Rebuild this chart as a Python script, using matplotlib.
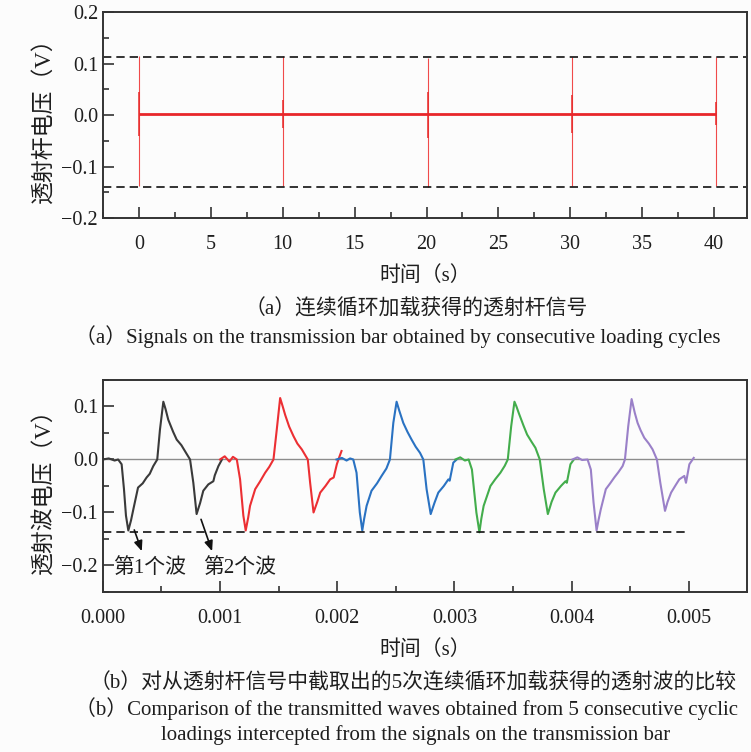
import matplotlib
matplotlib.use("Agg")
import matplotlib.pyplot as plt
import numpy as np

plt.rcParams['font.family'] = ['Liberation Serif', 'Noto Sans CJK SC']
plt.rcParams['axes.unicode_minus'] = True

# ---- panel (a): transmission bar signal over 5 loading cycles ----
spike_t = [0.0, 10.05, 20.1, 30.1, 40.1]        # s
spike_hi = [0.114, 0.114, 0.110, 0.113, 0.113]  # V
spike_lo = [-0.138, -0.138, -0.140, -0.138, -0.138]
spike_mid_hi = [0.045, 0.030, 0.045, 0.038, 0.025]
spike_mid_lo = [-0.040, -0.025, -0.045, -0.035, -0.020]
baseline_a = 0.003
upper_a = 0.113
lower_a = -0.139

# ---- panel (b): the 5 transmitted waves, keypoints (time in ms, volts) ----
t_black = [0.0, 0.05, 0.10, 0.13, 0.16, 0.18, 0.197, 0.217, 0.24, 0.26, 0.30, 0.34, 0.373, 0.40, 0.43, 0.464,
           0.487, 0.516, 0.535, 0.558, 0.60, 0.63, 0.67, 0.70, 0.744, 0.772, 0.80, 0.83, 0.857, 0.90, 0.943,
           0.955, 0.986, 1.014]
v_black = [0.0, 0.002, -0.002, 0.0, -0.009, -0.056, -0.106, -0.134, -0.115, -0.094, -0.053, -0.045, -0.034,
           -0.027, -0.0125, 0.0, 0.056, 0.109, 0.095, 0.075, 0.052, 0.0375, 0.027, 0.016, 0.0, -0.044, -0.103,
           -0.082, -0.059, -0.047, -0.041, -0.030, -0.0125, -0.001]

t_red = [1.0, 1.04, 1.08, 1.11, 1.143, 1.171, 1.199, 1.219, 1.24, 1.256, 1.30, 1.34, 1.385, 1.42, 1.456, 1.484,
         1.513, 1.535, 1.556, 1.59, 1.627, 1.66, 1.698, 1.749, 1.769, 1.798, 1.83, 1.855, 1.90, 1.94, 1.97,
         1.997, 2.017, 2.037]
v_red = [0.0, 0.006, -0.004, 0.005, 0.0, -0.0375, -0.106, -0.134, -0.110, -0.0875, -0.056, -0.042, -0.025,
         -0.014, 0.0, 0.056, 0.116, 0.100, 0.084, 0.062, 0.044, 0.030, 0.019, 0.0, -0.044, -0.100, -0.080,
         -0.0625, -0.050, -0.0375, -0.034, -0.009, 0.004, 0.016]

t_blue = [1.994, 2.04, 2.08, 2.11, 2.137, 2.165, 2.193, 2.214, 2.23, 2.251, 2.293, 2.34, 2.379, 2.42, 2.45,
          2.479, 2.507, 2.53, 2.564, 2.60, 2.635, 2.67, 2.707, 2.735, 2.763, 2.798, 2.83, 2.863, 2.91, 2.949,
          2.96, 2.991, 3.02]
v_blue = [0.0, 0.003, -0.002, 0.002, 0.0, -0.025, -0.100, -0.134, -0.112, -0.0875, -0.059, -0.045, -0.031,
          -0.017, 0.0, 0.069, 0.109, 0.092, 0.069, 0.052, 0.0375, 0.024, 0.0125, 0.0, -0.056, -0.103, -0.082,
          -0.0625, -0.050, -0.0375, -0.040, -0.006, 0.0]

t_green = [3.009, 3.05, 3.09, 3.122, 3.15, 3.188, 3.214, 3.23, 3.25, 3.308, 3.35, 3.393, 3.43, 3.456, 3.485,
           3.513, 3.53, 3.55, 3.59, 3.621, 3.66, 3.692, 3.729, 3.763, 3.798, 3.83, 3.863, 3.91, 3.949, 3.96,
           3.991, 4.02]
v_green = [0.0, 0.004, -0.002, 0.0, -0.019, -0.100, -0.1375, -0.112, -0.0875, -0.050, -0.037, -0.025, -0.012,
           0.0, 0.0625, 0.109, 0.100, 0.0875, 0.064, 0.047, 0.033, 0.022, 0.0, -0.056, -0.103, -0.080, -0.0625,
           -0.050, -0.041, -0.044, -0.009, 0.0]

t_purple = [4.008, 4.05, 4.09, 4.137, 4.165, 4.188, 4.214, 4.23, 4.25, 4.293, 4.33, 4.365, 4.40, 4.436, 4.456,
            4.484, 4.513, 4.54, 4.564, 4.59, 4.621, 4.66, 4.692, 4.729, 4.758, 4.798, 4.82, 4.85, 4.89, 4.92,
            4.963, 4.977, 5.006, 5.043]
v_purple = [0.0, 0.004, -0.001, 0.0, -0.019, -0.081, -0.134, -0.115, -0.094, -0.056, -0.045, -0.034, -0.024,
            -0.0125, 0.0, 0.0625, 0.114, 0.088, 0.069, 0.055, 0.041, 0.030, 0.019, 0.0, -0.044, -0.097, -0.080,
            -0.0625, -0.048, -0.0375, -0.031, -0.044, -0.009, 0.003]

waves = [
    (t_black, v_black, '#3a3a3a'),
    (t_red, v_red, '#ec2f33'),
    (t_blue, v_blue, '#2a72c2'),
    (t_green, v_green, '#43ad4c'),
    (t_purple, v_purple, '#9a80c8'),
]
lower_b = -0.137
dash_end_b = 0.005

fig = plt.figure(figsize=(7.51, 7.52), dpi=100)
fig.patch.set_facecolor('#fcfcfc')

tick_fs = 14.5
cjk_fs = 15
eng_fs = 15
txt_col = '#1e1e1e'


def style_axes(ax):
    ax.set_facecolor('#fcfcfc')
    for s in ax.spines.values():
        s.set_linewidth(1.4)
        s.set_color('#333333')
    ax.tick_params(which='both', direction='in', top=False, right=False,
                   labelsize=tick_fs, width=1.2, colors='#333333', labelcolor=txt_col)
    ax.tick_params(which='major', length=8)
    ax.tick_params(which='minor', length=4.5)
    ax.tick_params(axis='x', pad=12)


# ---- top axes ----
ax1 = fig.add_axes([0.137, 0.710, 0.858, 0.274])
ax1.vlines(spike_t, spike_lo, spike_hi, color='#f04a4a', lw=0.8)
ax1.vlines(spike_t, spike_mid_lo, spike_mid_hi, color='#e82a2a', lw=1.1)
ax1.hlines(baseline_a, spike_t[0], spike_t[-1], color='#e8262a', lw=2.0)
ax1.axhline(upper_a, color='#111111', lw=1.2, ls=(0, (5, 3)))
ax1.axhline(lower_a, color='#111111', lw=1.2, ls=(0, (5, 3)))
ax1.set_xlim(-2.5, 42.3)
ax1.set_ylim(-0.2, 0.2)
ax1.set_xticks(np.arange(0, 41, 5))
ax1.set_xticks(np.arange(-2.5, 42.5, 2.5), minor=True)
ax1.set_yticks([-0.2, -0.1, 0.0, 0.1, 0.2])
ax1.set_yticks(np.arange(-0.2, 0.21, 0.05), minor=True)
ax1.set_yticklabels(['−0.2', '−0.1', '0.0', '0.1', '0.2'])
style_axes(ax1)
ax1.set_xlabel('时间（s）', fontsize=cjk_fs, labelpad=9, color=txt_col)
ax1.set_ylabel('透射杆电压（V）', fontsize=16.5, labelpad=4, color=txt_col)

# ---- bottom axes ----
ax2 = fig.add_axes([0.137, 0.2128, 0.858, 0.2819])
ax2.axhline(0.0, color='#8c8c8c', lw=1.0)
for t, v, c in waves:
    ax2.plot(np.array(t) * 1e-3, v, color=c, lw=1.5)
ax2.hlines(lower_b, 0.0, dash_end_b, color='#111111', lw=1.2, ls=(0, (5, 3)))
ax2.set_xlim(0, 0.0055)
ax2.set_ylim(-0.25, 0.15)
ax2.set_xticks(np.arange(0, 0.0051, 0.001))
ax2.set_xticks(np.arange(0, 0.0055, 0.0005), minor=True)
ax2.set_xticklabels(['0.000', '0.001', '0.002', '0.003', '0.004', '0.005'])
ax2.set_yticks([-0.2, -0.1, 0.0, 0.1])
ax2.set_yticks(np.arange(-0.25, 0.151, 0.05), minor=True)
ax2.set_yticklabels(['−0.2', '−0.1', '0.0', '0.1'])
style_axes(ax2)
ax2.set_xlabel('时间（s）', fontsize=cjk_fs, labelpad=9, color=txt_col)
ax2.set_ylabel('透射波电压（V）', fontsize=16.5, labelpad=4, color=txt_col)

arrow_kw = dict(arrowstyle='-|>,head_length=0.6,head_width=0.25', color='#111111', lw=1.2)
ax2.annotate('', xy=(0.00034, -0.178), xytext=(0.00026, -0.128), arrowprops=arrow_kw)
ax2.annotate('', xy=(0.00094, -0.178), xytext=(0.00083, -0.108), arrowprops=arrow_kw)
ax2.text(0.0004, -0.205, '第1个波', fontsize=cjk_fs, ha='center', va='center', color=txt_col)
ax2.text(0.00117, -0.205, '第2个波', fontsize=cjk_fs, ha='center', va='center', color=txt_col)

# ---- captions ----
cx = 0.554
fig.text(cx, 1 - 310 / 752, '（a）连续循环加载获得的透射杆信号', fontsize=cjk_fs,
         ha='center', va='center', color=txt_col)
fig.text(0.10, 1 - 337 / 752, '（a）Signals on the transmission bar obtained by consecutive loading cycles',
         fontsize=eng_fs, ha='left', va='center', color=txt_col)
fig.text(0.55, 1 - 683 / 752, '（b）对从透射杆信号中截取出的5次连续循环加载获得的透射波的比较', fontsize=15,
         ha='center', va='center', color=txt_col)
fig.text(0.10, 1 - 709 / 752, '（b）Comparison of the transmitted waves obtained from 5 consecutive cyclic',
         fontsize=eng_fs, ha='left', va='center', color=txt_col)
fig.text(cx, 1 - 735 / 752, 'loadings intercepted from the signals on the transmission bar',
         fontsize=eng_fs, ha='center', va='center', color=txt_col)

fig.savefig('out.png', dpi=100, facecolor=fig.get_facecolor())
